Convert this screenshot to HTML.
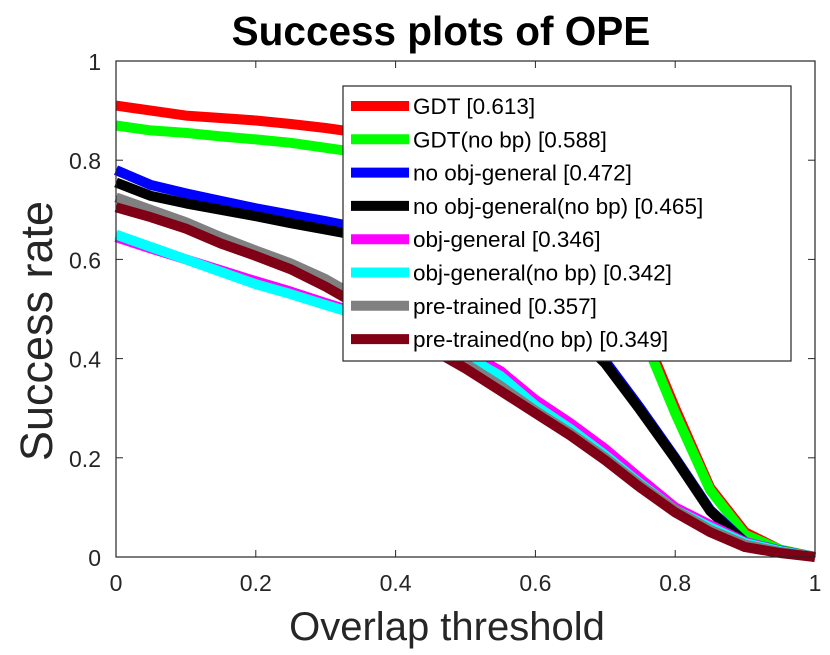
<!DOCTYPE html>
<html><head><meta charset="utf-8"><style>
body{margin:0;background:#fff;}
svg text{font-family:"Liberation Sans",sans-serif;fill:#262626;}
</style></head><body>
<svg width="830" height="650" viewBox="0 0 830 650">
<rect width="830" height="650" fill="#fff"/>
<g id="lines"></g>
<g id="axes"></g>
<text x="441" y="45" text-anchor="middle" font-size="40.5" font-weight="bold" style="fill:#000">Success plots of OPE</text>
<text x="447" y="640" text-anchor="middle" font-size="40">Overlap threshold</text>
<text transform="translate(52,331) rotate(-90)" text-anchor="middle" font-size="45">Success rate</text>
<g id="legend"></g>
</svg>
<script>
const thresholds=[0,0.05,0.1,0.15,0.2,0.25,0.3,0.35,0.4,0.45,0.5,0.55,0.6,0.65,0.7,0.75,0.8,0.85,0.9,0.95,1];
const seriesNames=["GDT [0.613]","GDT(no bp) [0.588]","no obj-general [0.472]","no obj-general(no bp) [0.465]","obj-general [0.346]","obj-general(no bp) [0.342]","pre-trained [0.357]","pre-trained(no bp) [0.349]"];
const seriesColors=["#ff0000","#00ff00","#0000ff","#000000","#ff00ff","#00ffff","#808080","#800015"];
const gdt=[0.91,0.90,0.89,0.885,0.88,0.873,0.865,0.855,0.845,0.835,0.82,0.8,0.77,0.72,0.63,0.47,0.3,0.14,0.05,0.015,0];
const gdtNoBp=[0.87,0.86,0.855,0.848,0.842,0.835,0.825,0.815,0.805,0.795,0.78,0.76,0.73,0.69,0.61,0.46,0.29,0.135,0.045,0.015,0];
const noObj=[0.78,0.75,0.733,0.718,0.703,0.69,0.677,0.663,0.65,0.625,0.595,0.555,0.515,0.465,0.395,0.3,0.2,0.095,0.03,0.013,0];
const noObjNoBp=[0.755,0.728,0.713,0.7,0.687,0.673,0.66,0.647,0.635,0.612,0.585,0.55,0.51,0.46,0.39,0.296,0.198,0.093,0.028,0.012,0];
const objGen=[0.645,0.622,0.6,0.578,0.556,0.535,0.512,0.49,0.468,0.445,0.415,0.375,0.317,0.27,0.218,0.158,0.1,0.065,0.03,0.012,0];
const objGenNoBp=[0.65,0.625,0.6,0.575,0.55,0.53,0.508,0.487,0.462,0.438,0.405,0.365,0.305,0.258,0.205,0.148,0.095,0.06,0.028,0.012,0];
const pre=[0.725,0.7,0.675,0.645,0.618,0.592,0.56,0.52,0.47,0.43,0.39,0.345,0.295,0.25,0.2,0.145,0.095,0.055,0.025,0.01,0];
const preNoBp=[0.705,0.685,0.662,0.632,0.607,0.58,0.545,0.505,0.46,0.42,0.38,0.335,0.29,0.245,0.195,0.14,0.09,0.05,0.02,0.008,0];
const allSeries=[gdt,gdtNoBp,noObj,noObjNoBp,objGen,objGenNoBp,pre,preNoBp];
const xTicks=[0,0.2,0.4,0.6,0.8,1];
const yTicks=[0,0.2,0.4,0.6,0.8,1];
const NS="http://www.w3.org/2000/svg";
const X0=116,X1=815,Y0=557,Y1=61;
const xs=v=>X0+v*(X1-X0), ys=v=>Y0-v*(Y0-Y1);
function mk(t,a,p){const e=document.createElementNS(NS,t);for(const k in a)e.setAttribute(k,a[k]);p.appendChild(e);return e;}
const lines=document.getElementById('lines');
allSeries.forEach((s,i)=>{
 const d=s.map((v,j)=>(j?'L':'M')+xs(thresholds[j]).toFixed(1)+','+ys(v).toFixed(1)).join(' ');
 const p=mk('path',{d:d,fill:'none',stroke:seriesColors[i],'stroke-width':10,'stroke-linejoin':'round'},lines);
 
 
});
const axes=document.getElementById('axes');
mk('rect',{x:X0,y:Y1,width:X1-X0,height:Y0-Y1,fill:'none',stroke:'#262626','stroke-width':1.2},axes);
xTicks.forEach(t=>{
 const x=xs(t);
 mk('line',{x1:x,y1:Y0,x2:x,y2:Y0-7,stroke:'#262626'},axes);
 mk('line',{x1:x,y1:Y1,x2:x,y2:Y1+7,stroke:'#262626'},axes);
 const l=mk('text',{x:x,y:Y0+34,'text-anchor':'middle','font-size':23},axes);
 l.textContent=String(t);
 
 
});
yTicks.forEach(t=>{
 const y=ys(t);
 mk('line',{x1:X0,y1:y,x2:X0+7,y2:y,stroke:'#262626'},axes);
 mk('line',{x1:X1,y1:y,x2:X1-7,y2:y,stroke:'#262626'},axes);
 const l=mk('text',{x:X0-15,y:y+9,'text-anchor':'end','font-size':23},axes);
 l.textContent=String(t);
 
 
});
const lg=document.getElementById('legend');
mk('rect',{x:343,y:86,width:448,height:275,fill:'#fff',stroke:'#262626','stroke-width':1.2},lg);
seriesNames.forEach((n,i)=>{
 const y=106+i*33.3;
 const ln=mk('line',{x1:351,y1:y,x2:409,y2:y,stroke:seriesColors[i],'stroke-width':10},lg);
 
 
 const t=mk('text',{x:413,y:y+8,'font-size':22.5,style:'fill:#000'},lg);
 t.textContent=n;
 
 
});
</script>
</body></html>
